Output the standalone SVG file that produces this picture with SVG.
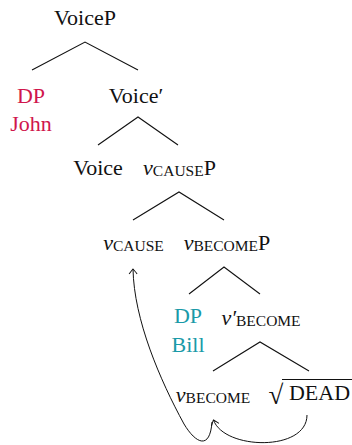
<svg xmlns="http://www.w3.org/2000/svg" width="352" height="445" viewBox="0 0 352 445">
  <style>
    text { font-family: 'Liberation Serif', serif; font-size: 22px; fill: #111; text-anchor: middle; }
    .sc { font-size: 15.5px; }
    .it { font-style: italic; }
    .red { fill: #d0164c; }
    .teal { fill: #1a9aa8; }
    .edge { stroke: #111; stroke-width: 1.1; fill: none; }
    .move { stroke: #111; stroke-width: 1; fill: none; marker-end: url(#tip); }
  </style>
  <defs>
    <marker id="tip" viewBox="-6 -5 8 10" markerWidth="8" markerHeight="10" refX="0" refY="0" orient="auto" markerUnits="userSpaceOnUse">
      <path d="M -5 -4 Q -1 -1 0 0 Q -1 1 -5 4" fill="none" stroke="#111" stroke-width="1"/>
    </marker>
  </defs>

  <!-- tree branches -->
  <g id="edges">
    <path class="edge" d="M32 70 L85 42 L138 70"/>
    <path class="edge" d="M98 145 L138 117 L178 145"/>
    <path class="edge" d="M133 220 L179 192 L224 220"/>
    <path class="edge" d="M189 294 L224 267 L260 294"/>
    <path class="edge" d="M213 371 L260 342 L309 371"/>
  </g>

  <g id="voiceP"><text x="85" y="25">VoiceP</text></g>
  <g id="dp-john">
    <text class="red" x="31" y="103">DP</text>
    <text class="red" x="31" y="131">John</text>
  </g>
  <g id="voice-bar"><text x="136" y="103">Voice′</text></g>
  <g id="voice"><text x="98" y="175">Voice</text></g>
  <g id="vcauseP"><text x="179.5" y="175"><tspan class="it">v</tspan><tspan class="sc" dy="1">CAUSE</tspan><tspan dy="-1">P</tspan></text></g>
  <g id="vcause"><text x="133.5" y="250"><tspan class="it">v</tspan><tspan class="sc" dy="1">CAUSE</tspan></text></g>
  <g id="vbecomeP"><text x="227" y="250"><tspan class="it">v</tspan><tspan class="sc" dy="1">BECOME</tspan><tspan dy="-1">P</tspan></text></g>
  <g id="dp-bill">
    <text class="teal" x="188" y="323">DP</text>
    <text class="teal" x="188" y="352">Bill</text>
  </g>
  <g id="vbecome-bar"><text x="261" y="325"><tspan class="it">v′</tspan><tspan class="sc" dy="1">BECOME</tspan></text></g>
  <g id="vbecome"><text x="213" y="402"><tspan class="it">v</tspan><tspan class="sc" dy="1">BECOME</tspan></text></g>
  <!-- root with radical sign and vinculum -->
  <g id="root-dead">
    <text x="276" y="404" style="font-size:27px">√</text>
    <line x1="282" y1="379.5" x2="352" y2="379.5" stroke="#111" stroke-width="1.1"/>
    <text x="319.5" y="400">DEAD</text>
  </g>

  <!-- head movement arrows -->
  <g id="movement">
    <path class="move" d="M307 415 C307 452 224 450 213.5 420"/>
    <path class="move" d="M212 422 C210 450 196 444 184 424 C160 380 134 320 133 269"/>
  </g>
</svg>
